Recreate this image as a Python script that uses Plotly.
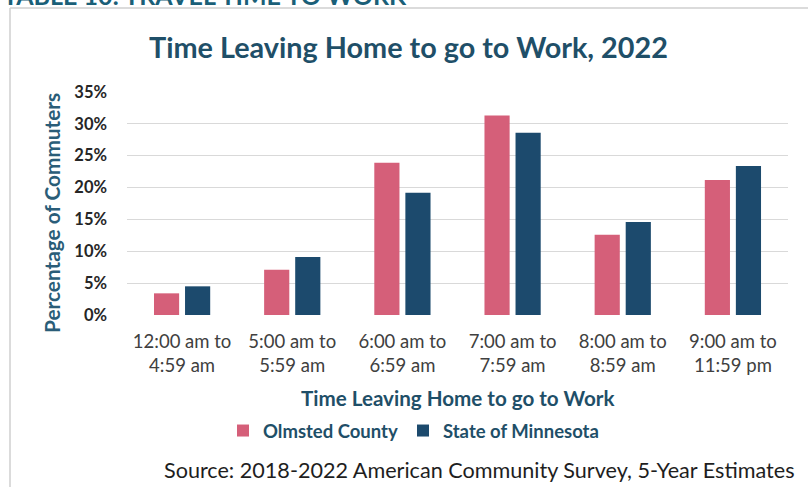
import plotly.graph_objects as go

# Commute departure windows and shares of commuters (%)
categories = [
    "12:00 am to<br>4:59 am",
    "5:00 am to<br>5:59 am",
    "6:00 am to<br>6:59 am",
    "7:00 am to<br>7:59 am",
    "8:00 am to<br>8:59 am",
    "9:00 am to<br>11:59 pm",
]
olmsted = [3.4, 7.1, 23.9, 31.3, 12.6, 21.2]
minnesota = [4.5, 9.1, 19.2, 28.6, 14.6, 23.4]
y_ticks = [0, 5, 10, 15, 20, 25, 30, 35]

PINK = "#d55f79"
NAVY = "#1c4a6d"
TEAL = "#1f4f68"
FONT = "Lato"

fig = go.Figure()
fig.add_trace(go.Bar(name="Olmsted County", x=categories, y=olmsted,
                     marker=dict(color=PINK, line=dict(width=0))))
fig.add_trace(go.Bar(name="State of Minnesota", x=categories, y=minnesota,
                     marker=dict(color=NAVY, line=dict(width=0))))

fig.update_layout(
    width=808, height=487,
    margin=dict(l=127, r=20, t=92, b=172),
    paper_bgcolor="white", plot_bgcolor="white",
    font=dict(family=FONT, color="#333333"),
    barmode="group", bargap=0.436, bargroupgap=0.19,
    showlegend=True,
    legend=dict(orientation="h", x=(223 - 127) / 661, xanchor="left",
                y=(315 - 431) / 223, yanchor="middle",
                font=dict(size=18.5, color=TEAL, weight="bold"),
                itemwidth=30, traceorder="normal"),
)
fig.update_xaxes(showgrid=False, showline=False, ticks="",
                 tickfont=dict(size=18.5, color="#404040"),
                 ticklabelstandoff=13)
fig.update_yaxes(range=[0, 35], tickvals=y_ticks,
                 ticktext=[f"{v}%" for v in y_ticks],
                 showgrid=True, gridcolor="#d9d9d9", gridwidth=1,
                 zeroline=False, showline=False, ticks="",
                 tickfont=dict(size=16.5, color="#262626", weight="bold"),
                 ticklabelstandoff=19)

# Chart frame (left and top edges)
fig.add_shape(type="line", xref="paper", yref="paper",
              x0=-0.177, x1=1.1, y0=1.377, y1=1.377,
              line=dict(color="#cfcfcf", width=1.5))
fig.add_shape(type="line", xref="paper", yref="paper",
              x0=-0.177, x1=-0.177, y0=1.377, y1=-0.9,
              line=dict(color="#cfcfcf", width=1.5))

# Report section header above the frame
fig.add_annotation(text="TABLE 10: TRAVEL TIME TO WORK", xref="paper", yref="paper",
                   x=-0.19, xanchor="left", y=1.36, yanchor="bottom", showarrow=False,
                   font=dict(size=25, color="#1a5f78", weight="bold", family=FONT))

# Chart title
fig.add_annotation(text="Time Leaving Home to go to Work, 2022", xref="paper", yref="paper",
                   x=(408 - 127) / 661, xanchor="center", y=(315 - 47) / 223, yanchor="middle",
                   showarrow=False,
                   font=dict(size=28.8, color=TEAL, weight="bold", family=FONT))

# Axis titles
fig.add_annotation(text="Time Leaving Home to go to Work", xref="paper", yref="paper",
                   x=(457 - 127) / 661, xanchor="center", y=(315 - 398) / 223, yanchor="middle",
                   showarrow=False,
                   font=dict(size=20.6, color=TEAL, weight="bold", family=FONT))
fig.add_annotation(text="Percentage of Commuters", xref="paper", yref="paper",
                   x=(51 - 127) / 661, xanchor="center", y=(315 - 213) / 223, yanchor="middle",
                   textangle=-90, showarrow=False,
                   font=dict(size=20.8, color="#2a5d78", weight="bold", family=FONT))

# Source note
fig.add_annotation(text="Source: 2018-2022 American Community Survey, 5-Year Estimates",
                   xref="paper", yref="paper",
                   x=(797 - 127) / 661, xanchor="right", y=(315 - 470) / 223, yanchor="middle",
                   showarrow=False,
                   font=dict(size=21.6, color="#1e1e1e", family=FONT))

fig.write_html("out.html")
